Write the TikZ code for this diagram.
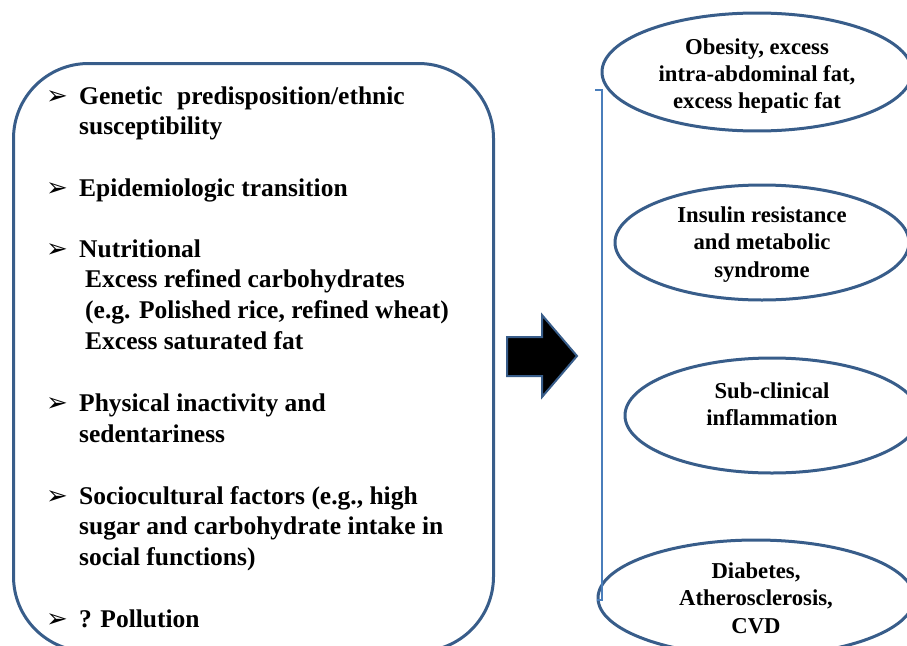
\documentclass[tikz,border=0pt]{standalone}
\usepackage{fontspec}
\setmainfont{Liberation Serif}
\newfontfamily\bulletfont{DejaVu Sans}
\usepackage{tikz}
\usetikzlibrary{positioning, shapes.geometric}
\definecolor{shapeblue}{RGB}{56,93,138}
\definecolor{linkblue}{RGB}{74,126,187}
\tikzset{
  factorbox/.style={draw=shapeblue, line width=3pt, rounded corners=75pt, inner sep=0pt},
  itemtext/.style={anchor=base west, align=left, inner sep=0pt,
                   font=\fontsize{25.5}{30.8}\selectfont\bfseries},
  bulletmark/.style={anchor=base west, inner sep=0pt, font=\bulletfont\fontsize{26}{26}\selectfont},
  outcome/.style={draw=shapeblue, line width=3pt, ellipse, align=center, inner sep=0pt,
                  font=\fontsize{22.7}{27.3}\selectfont\bfseries},
  blockarrow/.style={draw=shapeblue, line width=2pt, fill=black, line join=miter},
  bracketline/.style={draw=linkblue, line width=1.2pt}
}

\begin{document}
\begin{tikzpicture}[x=1pt, y=-1pt]

\path[use as bounding box, clip] (0,0) rectangle (907,645);

% Left box with risk factors (items placed at the baseline of their last line)
\node[factorbox, anchor=north west, minimum width=480pt, minimum height=588pt] (factors) at (12,62) {};

\node[bulletmark] (bulGenetic) at (46,104) {➢};
\node[itemtext] (itmGenetic) at (79,134.8) {Genetic\hspace{8pt} predisposition/ethnic\\susceptibility};
\node[bulletmark] (bulEpidem) at (46,196) {➢};
\node[itemtext] (itmEpidem) at (79,196) {Epidemiologic transition};
\node[bulletmark] (bulNutri) at (46,257) {➢};
\node[itemtext] (itmNutri) at (79,349.4) {Nutritional\\\hspace*{6pt}Excess refined carbohydrates\\\hspace*{6pt}(e.g. Polished rice, refined wheat)\\\hspace*{6pt}Excess saturated fat};
\node[bulletmark] (bulPhys) at (46,411.5) {➢};
\node[itemtext] (itmPhys) at (79,442.3) {Physical inactivity and\\sedentariness};
\node[bulletmark] (bulSocio) at (46,504) {➢};
\node[itemtext] (itmSocio) at (79,565.6) {Sociocultural factors (e.g., high\\sugar and carbohydrate intake in\\social functions)};
\node[bulletmark] (bulPoll) at (46,627) {➢};
\node[itemtext] (itmPoll) at (79,627) {? Pollution};

% Outcomes (right column)
\node[outcome, minimum width=310pt, minimum height=116pt] (obesity) at (757,72) {\rule{0pt}{24pt}Obesity, excess\\intra-abdominal fat,\\excess hepatic fat};
\node[outcome, minimum width=294pt, minimum height=115pt] (insulin) at (762,242.5) {\rule{0pt}{19.5pt}Insulin resistance\\and metabolic\\syndrome};
\node[outcome, minimum width=294pt, minimum height=115pt] (inflam) at (772,415.5) {Sub-clinical\\inflammation\rule[-23pt]{0pt}{23pt}};
\node[outcome, minimum width=316pt, minimum height=116pt] (diabetes) at (756,598) {Diabetes,\\Atherosclerosis,\\CVD};

% Block arrow
\draw[blockarrow] (507,337) -- (542,337) -- (542,315) -- (577,356) -- (542,397) -- (542,376) -- (507,376) -- cycle;

% Bracket
\coordinate (brtop) at (595,90);
\coordinate (brbot) at (597,600);
\draw[bracketline] (brtop) -- ++(7,0) |- (brbot);

\end{tikzpicture}
\end{document}
